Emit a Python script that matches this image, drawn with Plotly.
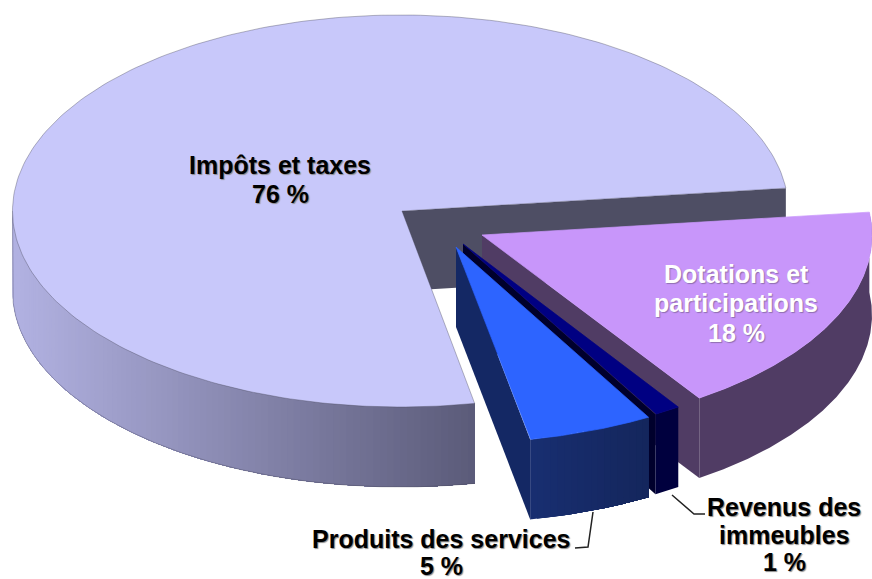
import numpy as np
import plotly.graph_objects as go

# Slices in counter-clockwise order from the Impôts slice
categories = ["Impôts et taxes", "Produits des services", "Revenus des immeubles", "Dotations et participations"]
values = [76.2, 5.2, 1.1, 17.5]
percent_labels = ["76 %", "5 %", "1 %", "18 %"]

START_ANGLE = 6.7
RX, RY, DEPTH = 388.0, 196.0, 80.0
apex_x = [402, 456, 463, 482]
apex_y = [211, 247, 244, 235]
rim_cx = [400.5, 456, 463, 484]
top_colors = ["#c8c8fa", "#2d64ff", "#000082", "#c896fa"]
edge_colors = ["#4e4e64", "#142864", "#00002c", "#503c64"]
wall_left = [(178, 178, 226), (24, 46, 112), (0, 0, 62), (80, 60, 100)]
wall_right = [(90, 90, 120), (20, 38, 92), (0, 0, 62), (80, 60, 100)]

label_lines = [
    (["Impôts et taxes", "76 %"], 280, [165, 194], "#000000", "1px 1px 1px #8a8a8a"),
    (["Dotations et", "participations", "18 %"], 736, [274, 303, 333], "#ffffff", "1px 1px 1px #8f6fb0"),
    (["Revenus des", "immeubles", "1 %"], 784, [507, 535, 562], "#000000", "1px 1px 1px #8a8a8a"),
    (["Produits des services", "5 %"], 441, [539, 566], "#000000", "1px 1px 1px #8a8a8a"),
]
leader_x = [[593, 588, 575], [672, 694, 705]]
leader_y = [[512, 547, 548], [495, 514, 514]]

# Slice angle spans from the values
sweeps = 360.0 * np.array(values) / sum(values)
starts = START_ANGLE + np.concatenate([[0], np.cumsum(sweeps)[:-1]])
ends = starts + sweeps

fig = go.Figure()
OUTLINE = "rgba(70,70,90,0.55)"


def point(i, t):
    r = np.radians(t)
    return rim_cx[i] + RX * np.cos(r), apex_y[i] - RY * np.sin(r)


def poly(xs, ys, color, line=None, width=0.0):
    fig.add_trace(go.Scatter(x=list(xs), y=list(ys), mode="lines", fill="toself", fillcolor=color,
                             line=dict(color=line or color, width=width), hoverinfo="skip", showlegend=False))


def outer_wall(i):
    lo, hi = max(starts[i], 180.0), ends[i]
    if i == 0:
        hi = min(hi, 360.0)
    x_lo, x_hi = point(i, lo)[0], point(i, min(hi, 360.0))[0]
    flat = wall_left[i] == wall_right[i]
    n = 1 if flat else max(2, int((hi - lo) / 1.0))
    ts = np.linspace(lo, hi, n + 1)
    fine = np.linspace(lo, hi, 300)
    # Each band runs from its own start to the end of the wall, so later bands overlap
    # earlier ones and no seams appear between them.
    for t0 in ts[:-1]:
        part = fine[fine > t0]
        seg = np.r_[t0, part]
        px, py = point(i, seg)
        f = np.clip((point(i, t0)[0] - x_lo) / (x_hi - x_lo), 0, 1)
        c = "rgb(%d,%d,%d)" % tuple(int(round(a + (b - a) * f)) for a, b in zip(wall_left[i], wall_right[i]))
        poly(np.r_[px, px[::-1], px[0]], np.r_[py, (py + DEPTH)[::-1], py[0]], c)
    if i == 0:
        px, py = point(i, fine)
        fig.add_trace(go.Scatter(x=np.r_[px[0], px], y=np.r_[py[0], py + DEPTH], mode="lines",
                                 line=dict(color=OUTLINE, width=0.7), hoverinfo="skip", showlegend=False))


def top_face(i):
    ts = np.linspace(starts[i], ends[i], 240)
    px, py = point(i, ts)
    poly(np.r_[apex_x[i], px, apex_x[i]], np.r_[apex_y[i], py, apex_y[i]], top_colors[i],
         line=OUTLINE if i == 0 else top_colors[i], width=0.7)


# Impôts: cut wall behind everything
x_r, y_r = point(0, starts[0])
poly([apex_x[0], x_r, x_r, apex_x[0], apex_x[0]],
     [apex_y[0], y_r, y_r + DEPTH, apex_y[0] + DEPTH, apex_y[0]], edge_colors[0])
outer_wall(0)
top_face(0)

# Front slices, painted back to front
for i in (3, 2, 1):
    ex, ey = point(i, starts[i])
    poly([apex_x[i], ex, ex, apex_x[i], apex_x[i]],
         [apex_y[i], ey, ey + DEPTH, apex_y[i] + DEPTH, apex_y[i]], edge_colors[i])
    outer_wall(i)
    top_face(i)

for xs, ys in zip(leader_x, leader_y):
    fig.add_trace(go.Scatter(x=xs, y=ys, mode="lines", line=dict(color="#222222", width=1.5),
                             hoverinfo="skip", showlegend=False))

annotations = []
for lines, cx, ys, color, shadow in label_lines:
    for text, y in zip(lines, ys):
        annotations.append(dict(x=cx, y=y, text=text, showarrow=False, xanchor="center", yanchor="middle",
                                font=dict(family="Liberation Sans, Arial, sans-serif", size=25, color=color,
                                          weight="bold", shadow=shadow)))

axis = dict(visible=False, showgrid=False, zeroline=False, fixedrange=True)
fig.update_layout(
    width=872, height=579, margin=dict(l=0, r=0, t=0, b=0),
    paper_bgcolor="white", plot_bgcolor="white", showlegend=False,
    xaxis=dict(range=[0, 872], **axis), yaxis=dict(range=[579, 0], **axis),
    annotations=annotations,
)
fig.write_html("out.html", config=dict(displayModeBar=False),
               post_script="document.body.style.margin='0';document.documentElement.style.overflow='hidden';")
